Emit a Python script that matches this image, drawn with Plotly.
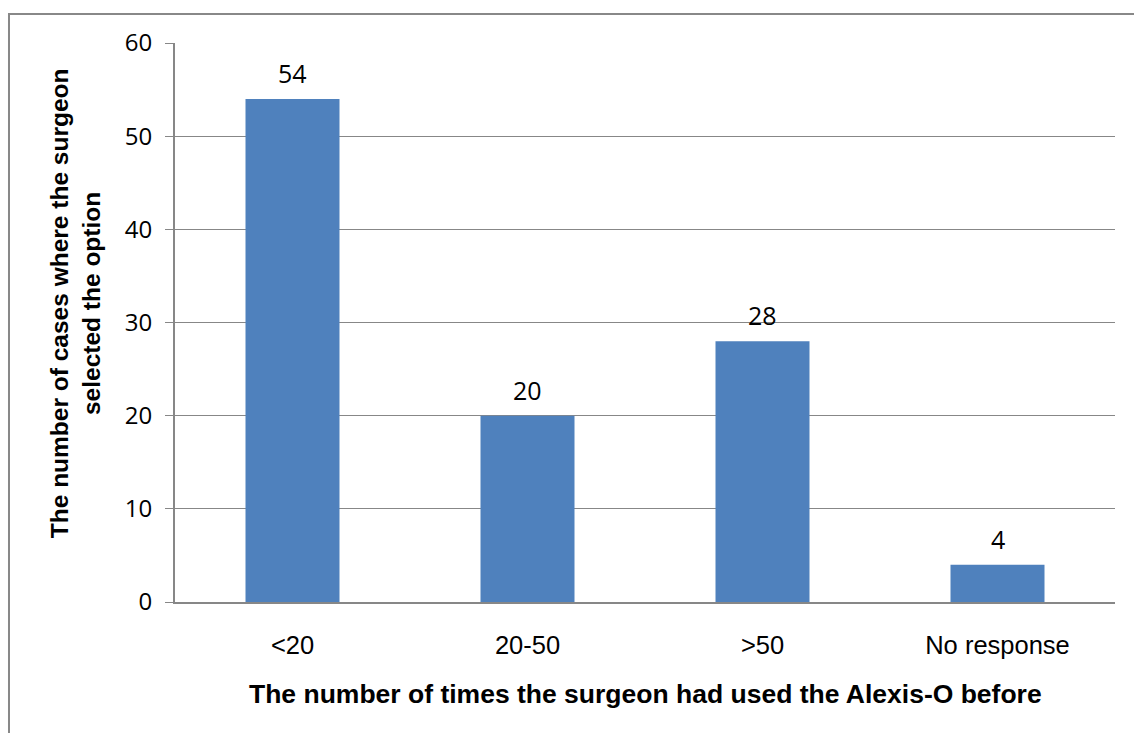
import plotly.graph_objects as go

# Survey responses: prior uses of the Alexis-O by the surgeon
categories = ["<20", "20-50", ">50", "No response"]
counts = [54, 20, 28, 4]
y_ticks = [0, 10, 20, 30, 40, 50, 60]

BAR_COLOR = "#4F81BD"
LINE_COLOR = "#878787"

fig = go.Figure()
fig.add_trace(go.Bar(
    x=categories,
    y=counts,
    marker=dict(color=BAR_COLOR, line=dict(width=0)),
    width=0.4,
    hoverinfo="x+y",
))

# value labels above each bar
for c, v in zip(categories, counts):
    fig.add_annotation(
        x=c, y=v, text=str(v), showarrow=False,
        yanchor="bottom", yshift=7,
        font=dict(family="Open Sans", size=25, color="#000000"),
    )

# y-axis title (two lines)
fig.add_annotation(
    xref="paper", yref="paper", x=-0.105, y=0.535,
    text="<b>The number of cases where the surgeon<br>selected the option</b>",
    textangle=-90, showarrow=False, align="center",
    xanchor="center", yanchor="middle",
    font=dict(family="Liberation Sans", size=24.5, color="#000000"),
)

# x-axis title
fig.add_annotation(
    xref="paper", yref="paper", x=0.5, y=-0.165,
    text="<b>The number of times the surgeon had used the Alexis-O before</b>",
    showarrow=False, xanchor="center", yanchor="middle",
    font=dict(family="Liberation Sans", size=26.5, color="#000000"),
)

# outer chart frame
fig.add_shape(
    type="rect", xref="paper", yref="paper",
    x0=-0.1766, x1=1.03, y0=-0.26, y1=1.0519,
    line=dict(color="#888888", width=2), fillcolor="rgba(0,0,0,0)",
    layer="below",
)

fig.update_layout(
    width=1134, height=733,
    margin=dict(l=175, r=19, t=43, b=131),
    paper_bgcolor="white", plot_bgcolor="white",
    showlegend=False,
    bargap=0.6,
    xaxis=dict(
        showline=True, linecolor=LINE_COLOR, linewidth=2,
        ticks="", showgrid=False,
        tickfont=dict(family="Liberation Sans", size=25.5, color="#000000"),
        ticklabelstandoff=19,
    ),
    yaxis=dict(
        range=[0, 60], tickvals=y_ticks,
        showline=True, linecolor=LINE_COLOR, linewidth=2,
        ticks="outside", ticklen=8, tickcolor=LINE_COLOR, tickwidth=1,
        showgrid=True, gridcolor=LINE_COLOR, gridwidth=1,
        zeroline=False,
        tickfont=dict(family="Open Sans", size=24, color="#000000"),
        ticklabelstandoff=8,
    ),
)

fig.write_html("out.html")
